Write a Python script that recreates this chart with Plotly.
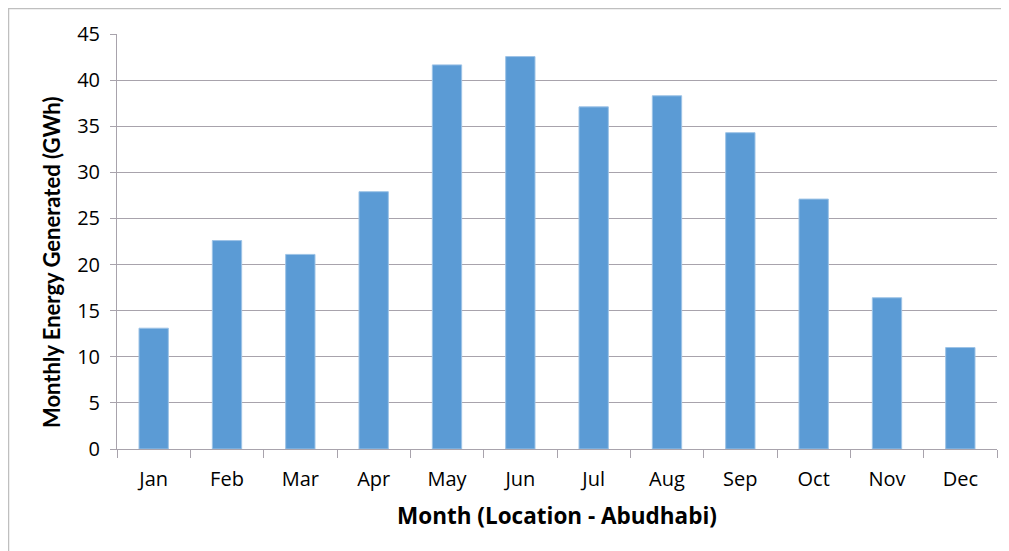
import plotly.graph_objects as go

months = ["Jan", "Feb", "Mar", "Apr", "May", "Jun", "Jul", "Aug", "Sep", "Oct", "Nov", "Dec"]
energy_gwh = [13.1, 22.6, 21.1, 27.9, 41.65, 42.55, 37.1, 38.3, 34.3, 27.1, 16.4, 11.0]
y_ticks = [0, 5, 10, 15, 20, 25, 30, 35, 40, 45]

grid_col = "#A8A3AC"
tick_font = "'Open Sans', Lato, sans-serif"

L, T, W, H = 109, 26, 880, 415

fig = go.Figure(go.Bar(
    x=months, y=energy_gwh,
    marker=dict(color="#5B9BD5", line=dict(color="#9DC3E6", width=1)),
    width=0.4,
))

fig.update_layout(
    width=1001, height=543,
    margin=dict(l=L, r=1001 - L - W, t=T, b=543 - T - H),
    paper_bgcolor="white", plot_bgcolor="white",
    showlegend=False,
    font=dict(family=tick_font, color="black"),
    xaxis=dict(
        tickfont=dict(size=20, family=tick_font),
        ticklabelstandoff=12,
        showline=True, linecolor=grid_col, linewidth=1,
        ticks="outside", ticklen=8, tickcolor=grid_col,
        tickson="boundaries",
        showgrid=False,
    ),
    yaxis=dict(
        tickfont=dict(size=20, family=tick_font),
        ticklabelstandoff=6,
        range=[0, 45], tickvals=y_ticks,
        showline=True, linecolor=grid_col, linewidth=1,
        ticks="outside", ticklen=6, tickcolor=grid_col,
        showgrid=True, gridcolor=grid_col, gridwidth=1,
        zeroline=False,
    ),
    annotations=[
        dict(text="<b>Month (Location - Abudhabi)</b>", xref="paper", yref="paper",
             x=0.5, y=(T + H - 507) / H, xanchor="center", yanchor="middle",
             showarrow=False, font=dict(size=22.5, family="'Open Sans', sans-serif")),
        dict(text="<b>Monthly Energy Generated (GWh)</b>", xref="paper", yref="paper",
             x=(44 - L) / W, y=(T + H - 255) / H, xanchor="center", yanchor="middle",
             textangle=-90, showarrow=False, font=dict(size=22, family="Lato, sans-serif")),
    ],
    shapes=[
        dict(type="line", xref="paper", yref="paper",
             x0=(0 - L) / W, x1=(1010 - L) / W,
             y0=(T + H - 0.5) / H, y1=(T + H - 0.5) / H,
             line=dict(color="#BFBFBF", width=1.5)),
        dict(type="line", xref="paper", yref="paper",
             x0=(0.5 - L) / W, x1=(0.5 - L) / W,
             y0=(T + H) / H, y1=(T + H - 560) / H,
             line=dict(color="#BFBFBF", width=1.5)),
    ],
)

fig.write_html("out.html")
